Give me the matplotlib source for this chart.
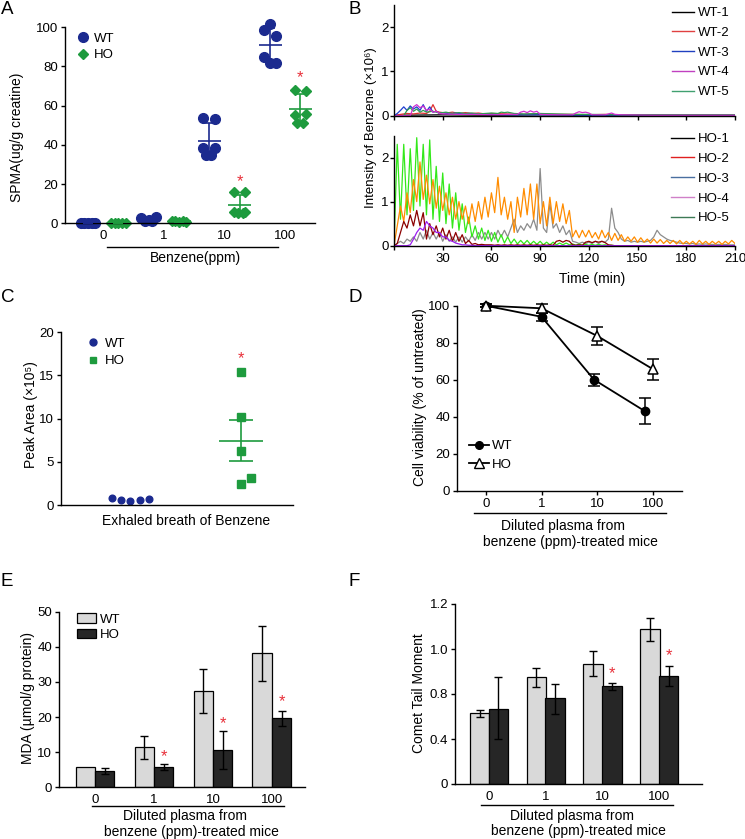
import numpy as np
import matplotlib
matplotlib.use('Agg')
import matplotlib.pyplot as plt
from matplotlib.lines import Line2D
from matplotlib.patches import Patch

plt.rcParams['font.family'] = ['Liberation Sans', 'DejaVu Sans']
plt.rcParams['font.size'] = 9.5
plt.rcParams['axes.linewidth'] = 1.0
plt.rcParams['xtick.major.width'] = 1.0
plt.rcParams['ytick.major.width'] = 1.0
plt.rcParams['xtick.major.size'] = 3
plt.rcParams['ytick.major.size'] = 3
plt.rcParams['xtick.major.pad'] = 2.5
plt.rcParams['ytick.major.pad'] = 2

# ---------------- data ----------------
doses = ['0', '1', '10', '100']

# A: urinary SPMA, individual mice
wt_spma = [[0.3, 0.2, 0.1, 0.2, 0.3],
           [2.8, 3.2, 1.2, 1.0, 1.8],
           [53.8, 53.1, 38.2, 38.2, 34.8, 34.8],
           [101.7, 98.5, 95.4, 84.9, 81.5, 81.5]]
ho_spma = [[0.2, 0.3, 0.1, 0.2, 0.3],
           [1.0, 1.2, 0.8, 1.1, 0.9],
           [16.1, 16.0, 6.0, 6.0, 5.5, 5.5],
           [67.9, 67.4, 55.2, 55.6, 50.9, 50.9]]
spma_star = [None, None, 21, 74]

# B: benzene intensity traces (x10^6), time in min
t_ho = list(range(0, 211, 2))
ho1 = [0, 0.05, 0.1, 0.05, 0.15, 0.1, 0.2, 0.1, 0.3, 0.15,
       0.35, 0.15, 0.3, 0.15, 0.3, 0.1, 0.25, 0.1, 0.2, 0.08,
       0.2, 0.08, 0.2, 0.1, 0.25, 0.12, 0.3, 0.15, 0.3, 0.15,
       0.3, 0.15, 0.35, 0.2, 0.35, 0.2, 0.4, 0.6, 0.3, 0.45,
       0.35, 0.5, 0.4, 0.6, 0.35, 1.75, 0.4, 0.3, 0.95, 0.4,
       0.5, 0.3, 0.45, 0.25, 0.35, 0.1, 0.08, 0.05, 0.08, 0.05,
       0.08, 0.05, 0.1, 0.05, 0.1, 0.08, 0.15, 0.85, 0.4, 0.3,
       0.15, 0.1, 0.12, 0.08, 0.1, 0.08, 0.1, 0.08, 0.1, 0.12,
       0.2, 0.35, 0.25, 0.2, 0.15, 0.12, 0.1, 0.08, 0.06, 0.05,
       0.05, 0.04, 0.05, 0.03, 0.04, 0.03, 0.04, 0.03, 0.03, 0.02,
       0.03, 0.02, 0.03, 0.02, 0.02, 0.02]
ho2 = [0, 0.05, 0.3, 0.55, 0.4, 0.7, 0.45, 0.8, 0.45, 0.75,
       0.15, 0.5, 0.25, 0.45, 0.2, 0.4, 0.15, 0.35, 0.1, 0.3,
       0.1, 0.25, 0.05, 0.12, 0.03, 0.05, 0.02, 0.03, 0.02, 0.02,
       0.02, 0.01, 0.02, 0.01, 0.02, 0.01, 0.02, 0.01, 0.02, 0.01,
       0.02, 0.01, 0.02, 0.01, 0.02, 0.01, 0.02, 0.01, 0.02, 0.01,
       0.1, 0.12, 0.08, 0.12, 0.1, 0.02, 0.01, 0.02, 0.01, 0.08,
       0.1, 0.07, 0.1, 0.08, 0.1, 0.07, 0.02, 0.01, 0, 0,
       0, 0, 0, 0, 0, 0, 0, 0, 0, 0,
       0, 0, 0, 0, 0, 0, 0, 0, 0, 0,
       0, 0, 0, 0, 0, 0, 0, 0, 0, 0,
       0, 0, 0, 0, 0, 0]
ho3 = [0.0, 0.45, 0.9, 0.55, 1.2, 0.75, 1.5, 1.0, 1.9, 1.05,
       1.6, 0.95, 1.5, 0.85, 1.35, 0.8, 1.2, 0.7, 1.1, 0.6,
       1.0, 0.6, 0.9, 0.5, 0.95, 0.55, 1.0, 0.6, 1.1, 0.65,
       1.2, 0.75, 1.55, 0.7, 1.1, 0.6, 1.0, 0.3, 1.1, 0.65,
       1.3, 0.7, 1.4, 0.6, 1.4, 0.5, 1.0, 0.45, 1.1, 0.5,
       1.0, 0.55, 0.95, 0.5, 0.8, 0.2, 0.35, 0.18, 0.35, 0.2,
       0.35, 0.18, 0.3, 0.15, 0.35, 0.18, 0.3, 0.12, 0.28, 0.12,
       0.25, 0.1, 0.2, 0.1, 0.2, 0.08, 0.18, 0.08, 0.15, 0.06,
       0.15, 0.06, 0.14, 0.05, 0.12, 0.05, 0.12, 0.04, 0.12, 0.04,
       0.1, 0.04, 0.1, 0.03, 0.12, 0.04, 0.1, 0.03, 0.1, 0.04,
       0.1, 0.03, 0.1, 0.04, 0.12, 0.05]
ho4 = [0, 0, 0, 0, 0, 0.02, 0.15, 0.3, 0.4, 0.35,
       0.55, 0.45, 0.4, 0.3, 0.3, 0.2, 0.2, 0.12, 0.1, 0.06,
       0.04, 0.02, 0.02, 0.01, 0.01, 0, 0, 0, 0, 0,
       0, 0, 0, 0, 0, 0, 0, 0, 0, 0,
       0, 0, 0, 0, 0, 0, 0, 0, 0, 0,
       0, 0, 0, 0, 0, 0, 0, 0, 0, 0,
       0, 0, 0, 0, 0, 0, 0, 0, 0, 0,
       0, 0, 0, 0, 0, 0, 0, 0, 0, 0,
       0, 0, 0, 0, 0, 0, 0, 0, 0, 0,
       0, 0, 0, 0, 0, 0, 0, 0, 0, 0,
       0, 0, 0, 0, 0, 0]
ho5 = [0.0, 2.3, 0.6, 2.3, 0.7, 2.2, 0.8, 2.45, 0.9, 2.3,
       0.7, 2.4, 0.6, 1.8, 0.55, 1.65, 0.5, 1.4, 0.4, 1.2,
       0.35, 0.95, 0.3, 0.65, 0.2, 0.45, 0.15, 0.4, 0.12, 0.35,
       0.1, 0.3, 0.08, 0.25, 0.06, 0.2, 0.05, 0.15, 0.04, 0.12,
       0.04, 0.12, 0.03, 0.1, 0.03, 0.1, 0.02, 0.08, 0.02, 0.08,
       0.02, 0.06, 0.02, 0.06, 0.02, 0.04, 0.01, 0.04, 0.01, 0.03,
       0.01, 0.03, 0.01, 0.03, 0.01, 0.02, 0, 0.01, 0, 0,
       0, 0, 0, 0, 0, 0, 0, 0, 0, 0,
       0, 0, 0, 0, 0, 0, 0, 0, 0, 0,
       0, 0, 0, 0, 0, 0, 0, 0, 0, 0,
       0, 0, 0, 0, 0, 0]

t_wt1 = [0, 30, 60, 90, 120, 150, 180, 210]
wt1 = [0.01, 0.02, 0.01, 0.02, 0.01, 0.02, 0.01, 0.01]
t_wt2 = [0, 4, 8, 12, 16, 20, 22, 24, 26, 28, 32, 36, 40, 44, 48, 52, 56, 60,
         70, 80, 90, 100, 110, 120, 130, 140, 150, 160, 170, 180, 190, 200, 210]
wt2 = [0, 0.03, 0.05, 0.04, 0.06, 0.05, 0.1, 0.25, 0.1, 0.08, 0.06, 0.08, 0.05,
       0.07, 0.05, 0.06, 0.04, 0.05, 0.04, 0.03, 0.04, 0.03, 0.03, 0.02, 0.03,
       0.02, 0.02, 0.02, 0.02, 0.02, 0.02, 0.02, 0.02]
t_wt3 = [0, 2, 4, 6, 8, 10, 12, 14, 16, 18, 20, 22, 24, 26, 28, 30, 34, 38, 42,
         46, 50, 60, 70, 80, 100, 120, 150, 180, 210]
wt3 = [0, 0.05, 0.12, 0.2, 0.12, 0.22, 0.15, 0.2, 0.12, 0.25, 0.1, 0.2, 0.08,
       0.1, 0.05, 0.07, 0.04, 0.06, 0.04, 0.05, 0.03, 0.03, 0.02, 0.02, 0.02,
       0.01, 0.01, 0.01, 0.01]
t_wt4 = [0, 10, 12, 14, 16, 18, 20, 22, 24, 26, 28, 30, 40, 50, 60, 70, 76, 78,
         80, 82, 84, 86, 88, 90, 100, 110, 112, 114, 116, 118, 120, 122, 130,
         132, 134, 136, 140, 160, 180, 210]
wt4 = [0, 0, 0.2, 0.25, 0.18, 0.22, 0.12, 0.15, 0.08, 0.1, 0.05, 0.04, 0.03,
       0.03, 0.02, 0.03, 0.03, 0.08, 0.1, 0.07, 0.11, 0.08, 0.1, 0.03, 0.02,
       0.02, 0.06, 0.09, 0.07, 0.08, 0.06, 0.02, 0.02, 0.04, 0.06, 0.03, 0.02,
       0.01, 0.01, 0.01]
t_wt5 = [0, 6, 8, 10, 12, 14, 16, 18, 20, 24, 28, 32, 36, 40, 44, 48, 52, 56,
         60, 64, 66, 68, 70, 74, 80, 90, 100, 110, 120, 140, 160, 180, 210]
wt5 = [0, 0, 0.12, 0.18, 0.1, 0.15, 0.08, 0.12, 0.08, 0.1, 0.06, 0.08, 0.05,
       0.07, 0.05, 0.06, 0.04, 0.05, 0.06, 0.05, 0.08, 0.07, 0.08, 0.05, 0.04,
       0.05, 0.04, 0.03, 0.03, 0.02, 0.02, 0.02, 0.02]

# C: exhaled breath peak area (x10^5)
wt_breath = [0.77, 0.58, 0.46, 0.58, 0.73]
ho_breath = [15.4, 10.2, 6.2, 2.4, 3.1]

# D: cell viability (% of untreated)
wt_viab = [100, 94, 60, 43]
wt_viab_err = [0.8, 2.3, 3.3, 7]
ho_viab = [100, 98.6, 83.6, 65.6]
ho_viab_err = [0.8, 2.5, 5, 5.6]

# E: MDA (umol/g protein)
wt_mda = [5.9, 11.4, 27.4, 38.1]
wt_mda_err = [0, 3.2, 6.2, 7.8]
ho_mda = [4.7, 5.7, 10.6, 19.6]
ho_mda_err = [0.9, 0.85, 5.4, 2.2]
mda_star = [None, 8.7, 18.2, 24.4]

# F: comet tail moment (mean, lower, upper end of error bar)
wt_comet = [0.628, 0.874, 0.935, 1.087]
wt_comet_lo = [0.60, 0.831, 0.880, 1.034]
wt_comet_hi = [0.658, 0.915, 0.989, 1.138]
ho_comet = [0.671, 0.763, 0.835, 0.882]
ho_comet_lo = [0.40, 0.623, 0.82, 0.835]
ho_comet_hi = [0.874, 0.843, 0.851, 0.923]
comet_star = [None, None, 0.892, 0.969]
comet_ticks = [0, 0.4, 0.8, 1.0, 1.2]

# ---------------- figure ----------------
W, H = 745, 839
fig = plt.figure(figsize=(W / 100, H / 100), dpi=100)


def box(l, t, r, b):
    return [l / W, 1 - b / H, (r - l) / W, (b - t) / H]


def ftext(x, y, s, **kw):
    kw.setdefault('ha', 'center')
    kw.setdefault('va', 'center')
    kw.setdefault('fontsize', 10)
    fig.text(x / W, 1 - y / H, s, **kw)


def uline(x0, x1, y):
    fig.add_artist(Line2D([x0 / W, x1 / W], [1 - y / H, 1 - y / H], color='k', lw=1.0))


def clean(ax):
    ax.spines['top'].set_visible(False)
    ax.spines['right'].set_visible(False)


def star(ax, x, y):
    ax.text(x, y, '*', color='#e8303a', ha='center', va='center', fontsize=12)


wt_c = '#1b2a8f'
ho_c = '#1e9b3e'

# panel letters
for lab, x, y in [('A', 1, 9), ('B', 349, 9), ('C', 1, 298), ('D', 348, 298),
                  ('E', 1, 582), ('F', 348, 582)]:
    ftext(x, y, lab, ha='left', fontsize=13.5)

# ---- A ----
axA = fig.add_axes(box(65, 27, 315, 223.3))
clean(axA)
wt_off = [[-0.12, -0.06, 0, 0.06, 0.12], [-0.12, 0.12, -0.06, 0.06, 0],
          [-0.1, 0.095, -0.1, 0.095, -0.06, 0.02], [0, -0.1, 0.1, -0.1, 0, 0.1]]
ho_off = [[-0.12, -0.06, 0, 0.06, 0.12], [-0.12, -0.06, 0, 0.06, 0.12],
          [-0.1, 0.09, -0.1, 0.09, -0.03, 0.05], [-0.09, 0.09, -0.09, 0.09, -0.05, 0.035]]
for g in range(4):
    for vals, offs, shift, col, mk, ms in [(wt_spma[g], wt_off[g], -0.25, wt_c, 'o', 7),
                                           (ho_spma[g], ho_off[g], 0.25, ho_c, 'D', 5.5)]:
        xc = g + shift
        axA.plot([xc + o for o in offs], vals, ls='', marker=mk, ms=ms, color=col,
                 clip_on=False, zorder=2)
        m = np.mean(vals)
        s = np.std(vals, ddof=1)
        axA.hlines(m, xc - 0.19, xc + 0.19, color=col, lw=1.2, zorder=3)
        axA.errorbar(xc, m, yerr=s, fmt='none', ecolor=col, elinewidth=1.2,
                     capsize=3.6, capthick=1.2, zorder=3)
    if spma_star[g] is not None:
        star(axA, g + 0.25, spma_star[g])
axA.set_xlim(-0.63, 3.49)
axA.set_ylim(0, 100)
axA.set_yticks([0, 20, 40, 60, 80, 100])
axA.set_xticks(range(4))
axA.set_xticklabels(doses)
axA.tick_params(axis='x', length=0, pad=5)
axA.legend(handles=[Line2D([], [], ls='', marker='o', ms=7, color=wt_c),
                    Line2D([], [], ls='', marker='D', ms=5.5, color=ho_c)],
           labels=['WT', 'HO'], loc='upper left', bbox_to_anchor=(0.02, 1.0),
           frameon=False, handletextpad=0.2, handlelength=1.2, labelspacing=0.35,
           borderaxespad=0, fontsize=9.5)
uline(107, 278, 246.7)
ftext(195, 258, 'Benzene(ppm)')
ftext(17, 137, 'SPMA(ug/g creatine)', rotation=90)

# ---- B ----
axB1 = fig.add_axes(box(394, 5, 735, 115.7))
axB2 = fig.add_axes(box(394, 135.5, 735, 245.7))
for ax in (axB1, axB2):
    clean(ax)
    ax.set_xlim(0, 210)
    ax.set_ylim(0, 2.5)
    ax.set_yticks([0, 1, 2])
    ax.set_xticks(range(0, 211, 30))
    ax.tick_params(axis='y', pad=1)
axB1.set_xticklabels([])
axB2.set_xticklabels([''] + [str(v) for v in range(30, 211, 30)])
lw_tr = 0.9
axB1.plot(t_wt1, wt1, color='k', lw=lw_tr)
axB1.plot(t_wt2, wt2, color='#e03030', lw=lw_tr)
axB1.plot(t_wt3, wt3, color='#1f3fd0', lw=lw_tr)
axB1.plot(t_wt5, wt5, color='#2e9b50', lw=lw_tr)
axB1.plot(t_wt4, wt4, color='#d02ed0', lw=lw_tr)
axB2.plot(t_ho, ho1, color='#8c8c8c', lw=lw_tr)
axB2.plot(t_ho, ho5, color='#33e81a', lw=lw_tr)
axB2.plot(t_ho, ho3, color='#ff8c00', lw=lw_tr)
axB2.plot(t_ho, ho2, color='#8b0000', lw=lw_tr)
axB2.plot(t_ho, ho4, color='#9b1cf0', lw=lw_tr)
wt_leg_c = ['k', '#e04040', '#2040c0', '#c040c0', '#40a070']
ho_leg_c = ['k', '#e02020', '#4a6fa0', '#d080c8', '#3d7a55']
for ax, cols, name, ytop in [(axB1, wt_leg_c, 'WT', 1.03), (axB2, ho_leg_c, 'HO', 1.07)]:
    ax.legend(handles=[Line2D([], [], color=c, lw=1.0) for c in cols],
              labels=['%s-%d' % (name, i + 1) for i in range(5)],
              loc='upper right', bbox_to_anchor=(1.0, ytop), frameon=False,
              fontsize=9.5, handlelength=1.7, handletextpad=0.3,
              labelspacing=0.57, borderaxespad=0)
ftext(592, 279, 'Time (min)')
ftext(371, 128, 'Intensity of Benzene (×10⁶)', rotation=90, fontsize=9.5)

# ---- C ----
axC = fig.add_axes(box(61, 332.3, 293, 505))
clean(axC)
wt_x_off = [-0.31, -0.155, 0, 0.17, 0.33]
ho_x_off = [0, 0, 0, 0, 0.17]
axC.plot([1.19 + o for o in wt_x_off], wt_breath, ls='', marker='o', ms=4.8,
         color=wt_c, clip_on=False)
axC.plot([3.1 + o for o in ho_x_off], ho_breath, ls='', marker='s', ms=5.5,
         color=ho_c, clip_on=False)
m = np.mean(ho_breath)
sem = np.std(ho_breath, ddof=1) / np.sqrt(len(ho_breath))
axC.hlines(m, 3.1 - 0.38, 3.1 + 0.38, color=ho_c, lw=1.2)
axC.errorbar(3.1, m, yerr=sem, fmt='none', ecolor=ho_c, elinewidth=1.2,
             capsize=8.6, capthick=1.2)
star(axC, 3.1, 17)
axC.set_xlim(0, 4)
axC.set_ylim(0, 20)
axC.set_yticks([0, 5, 10, 15, 20])
axC.set_xticks([])
axC.legend(handles=[Line2D([], [], ls='', marker='o', ms=5, color=wt_c),
                    Line2D([], [], ls='', marker='s', ms=5, color=ho_c)],
           labels=['WT', 'HO'], loc='upper left', bbox_to_anchor=(0.08, 1.0),
           frameon=False, handletextpad=0.3, handlelength=1.2, labelspacing=0.4,
           borderaxespad=0, fontsize=9.5)
ftext(186, 520.7, 'Exhaled breath of Benzene')
ftext(31, 415, 'Peak Area (×10⁵)', rotation=90)

# ---- D ----
axD = fig.add_axes(box(457.3, 305.7, 681.7, 490.7))
clean(axD)
xd = np.arange(4)
wt_xd_off = [0, 0, -0.06, -0.15]
axD.errorbar(xd + np.array(wt_xd_off), wt_viab, yerr=wt_viab_err, color='k',
             marker='o', ms=6, lw=1.3, elinewidth=1.1, capsize=4.5, capthick=1.1,
             clip_on=False, zorder=3)
axD.errorbar(xd, ho_viab, yerr=ho_viab_err, color='k', marker='^', ms=7,
             mfc='white', mec='k', mew=1.1, lw=1.3, elinewidth=1.1, capsize=4.5,
             capthick=1.1, clip_on=False, zorder=3)
axD.set_xlim(-0.51, 3.51)
axD.set_ylim(0, 100)
axD.set_yticks([0, 20, 40, 60, 80, 100])
axD.set_xticks(xd)
axD.set_xticklabels(doses)
axD.legend(handles=[Line2D([], [], color='k', marker='o', ms=5.5, lw=1.3),
                    Line2D([], [], color='k', marker='^', ms=6.5, mfc='white', lw=1.3)],
           labels=['WT', 'HO'], loc='lower left', bbox_to_anchor=(0.03, 0.08),
           frameon=False, handletextpad=0.2, handlelength=1.5, labelspacing=0.45,
           borderaxespad=0, fontsize=9.5)
uline(474, 666, 513.3)
ftext(563, 525.7, 'Diluted plasma from')
ftext(570, 541.7, 'benzene (ppm)-treated mice')
ftext(420, 397, 'Cell viability (% of untreated)', rotation=90)

# ---- E ----
axE = fig.add_axes(box(59, 611.7, 305, 787.3))
clean(axE)
bw = 0.33
xe = np.arange(4)
axE.bar(xe - bw / 2, wt_mda, bw, color='#d9d9d9', edgecolor='k', lw=0.9)
axE.bar(xe + bw / 2, ho_mda, bw, color='#262626', edgecolor='k', lw=0.9)
axE.errorbar(xe[1:] - bw / 2, wt_mda[1:], yerr=wt_mda_err[1:], fmt='none', ecolor='k',
             elinewidth=1.0, capsize=3, capthick=1.0)
axE.errorbar(xe + bw / 2, ho_mda, yerr=ho_mda_err, fmt='none', ecolor='k',
             elinewidth=1.0, capsize=3, capthick=1.0)
for g in range(4):
    if mda_star[g] is not None:
        star(axE, g + bw / 2, mda_star[g])
axE.set_xlim(-0.61, 3.56)
axE.set_ylim(0, 50)
axE.set_yticks([0, 10, 20, 30, 40, 50])
axE.set_xticks(xe)
axE.set_xticklabels(doses)
axE.tick_params(axis='x', length=0, pad=5)
axE.legend(handles=[Patch(facecolor='#d9d9d9', edgecolor='k', lw=0.9),
                    Patch(facecolor='#262626', edgecolor='k', lw=0.9)],
           labels=['WT', 'HO'], loc='upper left', bbox_to_anchor=(0.05, 1.02),
           frameon=False, handletextpad=0.3, handlelength=1.5, handleheight=0.7,
           labelspacing=0.25, borderaxespad=0, fontsize=9.5)
uline(92, 284, 805.7)
ftext(185, 815.7, 'Diluted plasma from')
ftext(191.5, 831.7, 'benzene (ppm)-treated mice')
ftext(28, 698, 'MDA (µmol/g protein)', rotation=90)

# ---- F ----
axF = fig.add_axes(box(455, 604, 701.7, 784))
clean(axF)
seg = [0, 1, 2, 3, 4]
axF.set_yscale('function', functions=(lambda v: np.interp(v, comet_ticks, seg),
                                      lambda u: np.interp(u, seg, comet_ticks)))
xf = np.arange(4)
axF.bar(xf - bw / 2, wt_comet, 0.345, color='#d9d9d9', edgecolor='k', lw=0.9)
axF.bar(xf + bw / 2, ho_comet, 0.345, color='#262626', edgecolor='k', lw=0.9)
axF.errorbar(xf - bw / 2, wt_comet,
             yerr=[np.array(wt_comet) - np.array(wt_comet_lo),
                   np.array(wt_comet_hi) - np.array(wt_comet)],
             fmt='none', ecolor='k', elinewidth=1.0, capsize=3, capthick=1.0)
axF.errorbar(xf + bw / 2, ho_comet,
             yerr=[np.array(ho_comet) - np.array(ho_comet_lo),
                   np.array(ho_comet_hi) - np.array(ho_comet)],
             fmt='none', ecolor='k', elinewidth=1.0, capsize=3, capthick=1.0)
for g in range(4):
    if comet_star[g] is not None:
        star(axF, g + bw / 2, comet_star[g])
axF.set_xlim(-0.6, 3.75)
axF.set_ylim(0, 1.2)
axF.set_yticks(comet_ticks)
axF.set_yticklabels(['0', '0.4', '0.8', '1.0', '1.2'])
axF.minorticks_off()
axF.set_xticks(xf)
axF.set_xticklabels(doses)
axF.tick_params(axis='x', length=0, pad=5)
uline(480.7, 672.7, 805)
ftext(572, 815.7, 'Diluted plasma from')
ftext(578, 831.5, 'benzene (ppm)-treated mice')
ftext(419, 693, 'Comet Tail Moment', rotation=90)

fig.savefig('out.png', dpi=100)
